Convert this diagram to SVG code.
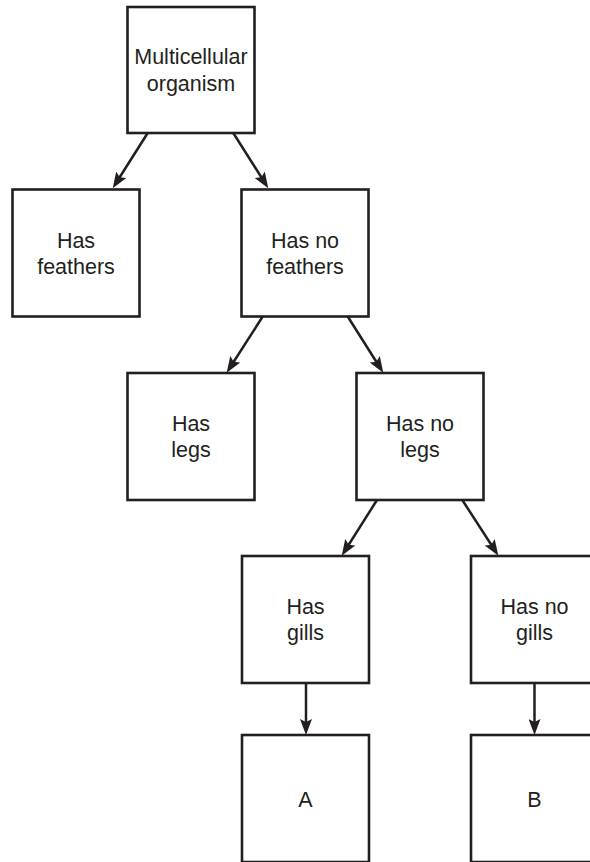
<svg xmlns="http://www.w3.org/2000/svg" width="590" height="862" viewBox="0 0 590 862">
<style>
  .box { fill: #ffffff; stroke: #231f20; stroke-width: 2.6; }
  .lbl { font-family: "Liberation Sans", Arial, sans-serif; font-size: 21.5px; fill: #231f20; text-anchor: middle; }
  .edge { stroke: #231f20; stroke-width: 2.5; fill: none; marker-end: url(#arrow); }
</style>
<defs>
  <marker id="arrow" viewBox="0 0 16 12" refX="8" refY="6" markerWidth="16" markerHeight="12" markerUnits="userSpaceOnUse" orient="auto">
    <path d="M0,0 L16,6 L0,12 L3,6 Z" fill="#231f20"/>
  </marker>
</defs>
<rect width="590" height="862" fill="#ffffff"/>
<g id="connectors">
  <line class="edge" x1="147.7" y1="133" x2="117.0" y2="181.5"/>
  <line class="edge" x1="233.3" y1="133" x2="264.0" y2="181.5"/>
  <line class="edge" x1="262.7" y1="316.5" x2="231.0" y2="366.0"/>
  <line class="edge" x1="347.7" y1="316.5" x2="379.0" y2="366.0"/>
  <line class="edge" x1="377" y1="500" x2="346.0" y2="549.0"/>
  <line class="edge" x1="462.3" y1="500" x2="494.0" y2="549.0"/>
  <line class="edge" x1="306" y1="683" x2="306" y2="727"/>
  <line class="edge" x1="534.5" y1="683" x2="534.5" y2="727"/>
</g>
<g id="n-multicellular">
  <rect class="box" x="127.5" y="7" width="127" height="126"/>
  <text class="lbl" x="191" y="64">Multicellular</text>
  <text class="lbl" x="191" y="90.5">organism</text>
</g>
<g id="n-has-feathers">
  <rect class="box" x="12.5" y="189.5" width="127" height="127"/>
  <text class="lbl" x="76" y="247.5">Has</text>
  <text class="lbl" x="76" y="274">feathers</text>
</g>
<g id="n-has-no-feathers">
  <rect class="box" x="241.5" y="189.5" width="127" height="127"/>
  <text class="lbl" x="305" y="247.5">Has no</text>
  <text class="lbl" x="305" y="274">feathers</text>
</g>
<g id="n-has-legs">
  <rect class="box" x="127.5" y="373" width="127" height="127"/>
  <text class="lbl" x="191" y="430.5">Has</text>
  <text class="lbl" x="191" y="457">legs</text>
</g>
<g id="n-has-no-legs">
  <rect class="box" x="356.5" y="373" width="127" height="127"/>
  <text class="lbl" x="420" y="430.5">Has no</text>
  <text class="lbl" x="420" y="457">legs</text>
</g>
<g id="n-has-gills">
  <rect class="box" x="242" y="556" width="127" height="127"/>
  <text class="lbl" x="305.5" y="613.5">Has</text>
  <text class="lbl" x="305.5" y="640">gills</text>
</g>
<g id="n-has-no-gills">
  <rect class="box" x="471" y="556" width="127" height="127"/>
  <text class="lbl" x="534.5" y="613.5">Has no</text>
  <text class="lbl" x="534.5" y="640">gills</text>
</g>
<g id="n-a">
  <rect class="box" x="242" y="735" width="127" height="127"/>
  <text class="lbl" x="305.5" y="806.5">A</text>
</g>
<g id="n-b">
  <rect class="box" x="471" y="735" width="127" height="127"/>
  <text class="lbl" x="534.5" y="806.5">B</text>
</g>
</svg>
